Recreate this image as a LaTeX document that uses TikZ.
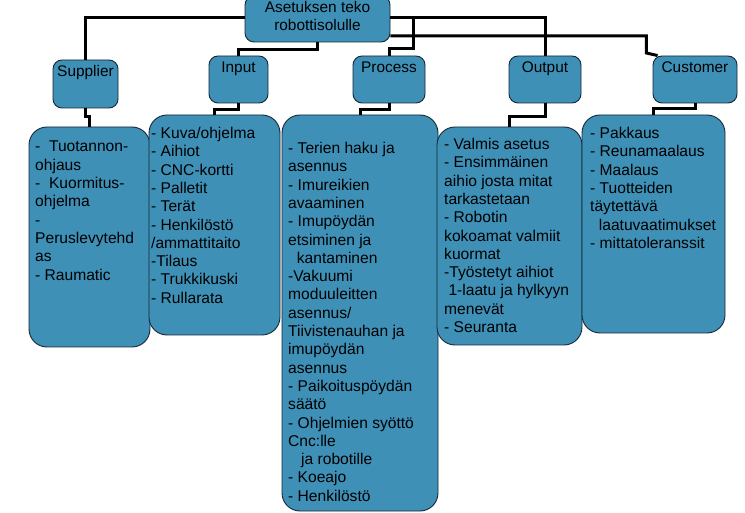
\documentclass[tikz,border=0pt]{standalone}
\usepackage{fontspec}
\setmainfont{Liberation Sans}
\definecolor{boxfill}{RGB}{62,144,183}
\definecolor{boxline}{RGB}{22,40,55}
\begin{document}
\begin{tikzpicture}[x=1pt,y=-1pt,
  box/.style={draw=boxline,line width=0.9pt,fill=boxfill,rounded corners=#1,inner sep=0pt},
  box/.default=9pt,
  conn/.style={line width=3pt,black},
  lbl/.style={font=\fontsize{15.6}{18.3}\selectfont,align=left,inner sep=0pt,anchor=north west},
  ttl/.style={font=\fontsize{15.4}{18}\selectfont,inner sep=0pt,anchor=base}]
\useasboundingbox[fill=white] (0,0) rectangle (745,513);

% top
\node[box, minimum width=145pt, minimum height=46pt] (top) at (317.5,19) {};
\node[ttl] (toptxt1) at (317.5,13) {Asetuksen teko};
\node[ttl] (toptxt2) at (317.5,31) {robottisolulle};

% level 2
\node[box, minimum width=65pt, minimum height=48pt] (sup) at (85.5,84) {};
\node[box, minimum width=59pt, minimum height=47pt] (inp) at (238.5,79.5) {};
\node[box, minimum width=72pt, minimum height=47pt] (proc) at (389,79.5) {};
\node[box, minimum width=72pt, minimum height=47pt] (out) at (545,79.5) {};
\node[box, minimum width=84pt, minimum height=47pt] (cus) at (695,79.5) {};
\node[ttl] (suptxt) at (85.5,77) {Supplier};
\node[ttl] (inptxt) at (238.5,73) {Input};
\node[ttl] (proctxt) at (389,73) {Process};
\node[ttl] (outtxt) at (545,73) {Output};
\node[ttl] (custxt) at (695,73) {Customer};

% level 3
\node[box=18pt, minimum width=121pt, minimum height=220pt] (supl) at (89.5,237) {};
\node[box=18pt, minimum width=131pt, minimum height=220pt] (inpl) at (214.5,225) {};
\node[box=18pt, minimum width=156pt, minimum height=396pt] (procl) at (360,313) {};
\node[box=18pt, minimum width=145pt, minimum height=218pt] (outl) at (509.5,236) {};
\node[box=18pt, minimum width=143pt, minimum height=218pt] (cusl) at (653.5,224) {};

\node[lbl] (supt) at (35,141) {-\ \ Tuotannon-\\ohjaus\\-\ \ Kuormitus-\\ohjelma\\-\\Peruslevytehd\\as\\- Raumatic};
\node[lbl] (inpt) at (151,127) {- Kuva/ohjelma\\- Aihiot\\- CNC-kortti\\- Palletit\\- Terät\\- Henkilöstö\\/ammattitaito\\-Tilaus\\- Trukkikuski\\- Rullarata};
\node[lbl] (proct) at (288,142) {- Terien haku ja\\asennus\\- Imureikien\\avaaminen\\- Imupöydän\\etsiminen ja\\\ \ kantaminen\\-Vakuumi\\moduuleitten\\asennus/\\Tiivistenauhan ja\\imupöydän\\asennus\\- Paikoituspöydän\\säätö\\- Ohjelmien syöttö\\Cnc:lle\\\ \ \ ja robotille\\- Koeajo\\- Henkilöstö};
\node[lbl] (outt) at (444,138) {- Valmis asetus\\- Ensimmäinen\\aihio josta mitat\\tarkastetaan\\- Robotin\\kokoamat valmiit\\kuormat\\-Työstetyt aihiot\\\ 1-laatu ja hylkyyn\\menevät\\- Seuranta};
\node[lbl] (cust) at (590,127) {- Pakkaus\\- Reunamaalaus\\- Maalaus\\- Tuotteiden\\täytettävä\\\ \ laatuvaatimukset\\- mittatoleranssit};

% connectors top -> level 2
\draw[conn] ([yshift=1pt]top.west) -| (sup.north);
\draw[conn] (top.south) -- ++(0,7) -| (inp.north);
\draw[conn] ([yshift=1pt]top.east) -- ++(23,0) -- ++(0,31) -| (proc.north);
\draw[conn] ([yshift=1pt]top.east) -| (out.north);
\draw[conn] ([yshift=-17pt]top.east) -- ++(256,0) -- ++(0,17) -- ([xshift=5pt]cus.north west);

% connectors level 2 -> level 3
\draw[conn] (sup.south) -- ++(0,8) -| (supl.north);
\draw[conn] (inp.south) -- ++(0,6) -| (inpl.north);
\draw[conn] (proc.south) -- ++(0,6) -| (procl.north);
\draw[conn] (out.south) -- ++(0,13) -| (outl.north);
\draw[conn] (cus.south) -- ++(0,5) -| (cusl.north);
\end{tikzpicture}
\end{document}
